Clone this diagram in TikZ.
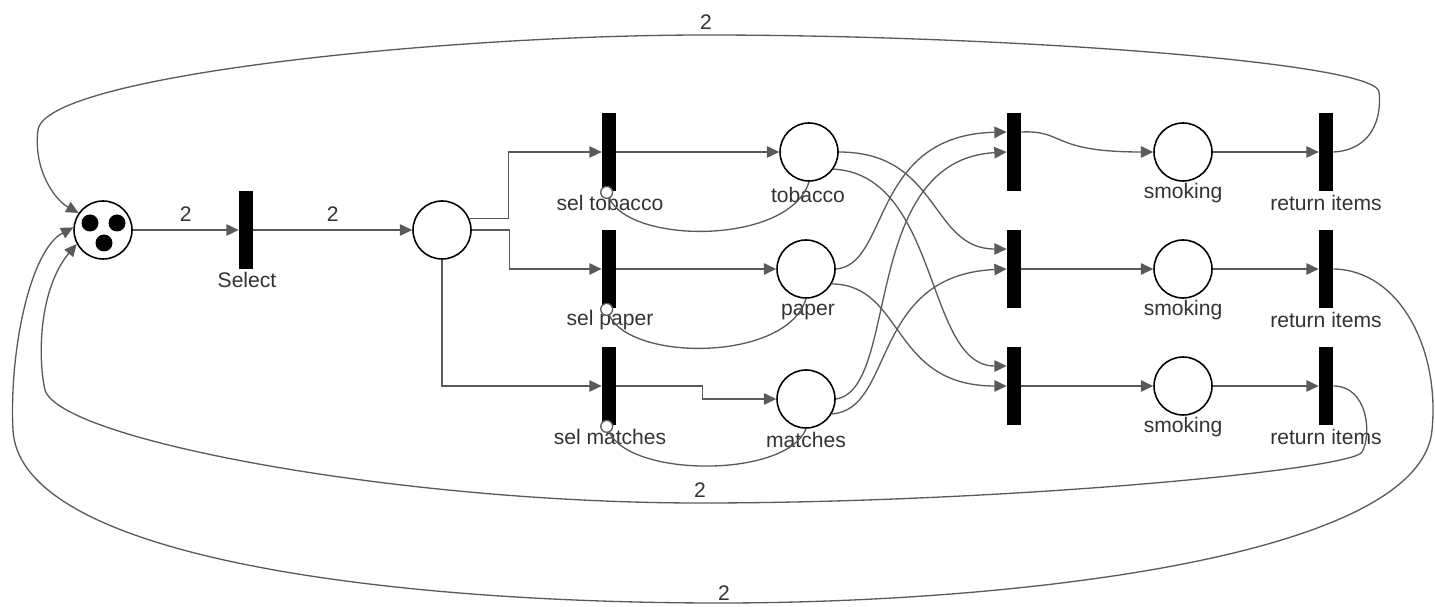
\documentclass[tikz,border=0pt]{standalone}
\usepackage{fontspec}
\setmainfont{Liberation Sans}
\usetikzlibrary{arrows.meta,calc}

\definecolor{arcgray}{HTML}{5A5A5A}
\definecolor{txtgray}{HTML}{333333}

\tikzset{
  place/.style={circle, draw=black, line width=0.9pt, minimum size=1.16cm, inner sep=0},
  trans/.style={rectangle, fill=black, minimum width=0.28cm, minimum height=1.56cm, inner sep=0},
  arc/.style={draw=arcgray, line width=0.75pt, -{Triangle[length=7pt,width=6.5pt]}},
  inhib/.style={draw=arcgray, line width=0.75pt, -{Circle[length=7.5pt,fill=white]}},
  lbl/.style={text=txtgray, font=\fontsize{12}{14}\selectfont, inner sep=0},
  weight/.style={lbl}
}

\begin{document}
\begin{tikzpicture}[x=0.02cm, y=-0.02cm]
\useasboundingbox (0,0) rectangle (1435,607);

% Start place with tokens
\node[place] (start) at (103,230) {};
\foreach \p in {(90,223),(117,223),(104,243)}
{
\fill \p circle (0.17cm);
}

% Select
\node[trans] (select) at (246,230) {};
\node[lbl] (select-lbl) at (247,280) {Select};
\node[place] (choice) at (442,230) {};

% Selection transitions and ingredient places
\node[trans] (seltob) at (609,152) {};
\node[trans] (selpap) at (609,269) {};
\node[trans] (selmat) at (609,386) {};
\node[lbl] (seltob-lbl) at (610,203) {sel tobacco};
\node[lbl] (selpap-lbl) at (610,320) {sel paper};
\node[lbl] (selmat-lbl) at (610,437) {sel matches};

\node[place] (tob) at (809,152) {};
\node[place] (pap) at (806,269) {};
\node[place] (mat) at (806,399) {};
\node[lbl] (tob-lbl) at (808,195) {tobacco};
\node[lbl] (pap-lbl) at (808,312) {paper};
\node[lbl] (mat-lbl) at (806,440) {matches};

% Smokers
\foreach \i/\y in {1/152,2/269,3/386}
{
\node[trans] (smk\i) at (1014,\y) {};
\node[place] (smoking\i) at (1183,\y) {};
\node[trans] (ret\i) at (1326,\y) {};
\node[lbl] (smoking\i-lbl) at (1183,\y+41) {smoking};
\node[lbl] (ret\i-lbl) at (1326,\y+51) {return items};
\draw[arc] (smoking\i.east) -- (ret\i.west);
}

% Start -> select -> choice
\draw[arc] (start.east) -- (select.west) node[weight, midway, above=0.15cm] {2};
\draw[arc] (select.east) -- (choice.west) node[weight, midway, above=0.15cm] {2};

% Choice -> selection transitions
\draw[arc] (choice.22) -- ++(39,0) |- (seltob.west);
\draw[arc] (choice.east) -- ++(38,0) |- (selpap.west);
\draw[arc] (choice.south) |- (selmat.west);

% Selection -> ingredients
\draw[arc] (seltob.east) -- (tob.west);
\draw[arc] (selpap.east) -- (pap.west);
\draw[arc] (selmat.east) -- ++(86,0) |- (mat.west);

% Inhibitor arcs
\draw[inhib] (tob.south) .. controls (790,245) and (630,245) .. ([shift={(-5,-5)}]seltob.south);
\draw[inhib] (pap.south) .. controls (787,362) and (630,362) .. ([shift={(-5,-5)}]selpap.south);
\draw[inhib] (mat.south) .. controls (787,478) and (630,478) .. ([shift={(-5,-5)}]selmat.south);

% Ingredients -> smokers
\draw[arc] (tob.east) .. controls (940,152) and (930,249) .. ([yshift=0.4cm]smk2.west);
\draw[arc] (tob.-35) .. controls (940,175) and (925,366) .. ([yshift=0.4cm]smk3.west);
\draw[arc] (pap.east) .. controls (890,265) and (870,135) .. ([yshift=0.4cm]smk1.west);
\draw[arc] (pap.-30) .. controls (905,285) and (890,386) .. (smk3.west);
\draw[arc] (mat.east) .. controls (900,390) and (860,160) .. (smk1.west);
\draw[arc] (mat.-30) .. controls (895,410) and (870,275) .. (smk2.west);

% Smokers -> smoking
\draw[arc] ([yshift=0.4cm]smk1.east) .. controls (1065,130) and (1050,152) .. (smoking1.west);
\draw[arc] (smk2.east) -- (smoking2.west);
\draw[arc] (smk3.east) -- (smoking3.west);

% Return arcs
\draw[arc] (ret1.east) .. controls (1372,150) and (1382,118) .. (1379,92)
  .. controls (1377,62) and (1000,35) .. (705,35)
  .. controls (450,35) and (45,75) .. (38,130)
  .. controls (33,170) and (55,200) .. (start.145);
\node[weight] (w-top) at (706,22) {2};

\draw[arc] (ret2.east) .. controls (1400,270) and (1440,350) .. (1432,430)
  .. controls (1420,560) and (1000,603) .. (720,603)
  .. controls (400,603) and (20,560) .. (13,430)
  .. controls (9,352) and (30,250) .. (start.175);
\node[weight] (w-low) at (724,593) {2};

\draw[arc] (ret3.east) .. controls (1368,386) and (1372,435) .. (1362,452)
  .. controls (1352,470) and (1000,503) .. (700,503)
  .. controls (400,503) and (60,440) .. (45,390)
  .. controls (38,360) and (38,290) .. (start.208);
\node[weight] (w-mid) at (700,490) {2};

\end{tikzpicture}
\end{document}
